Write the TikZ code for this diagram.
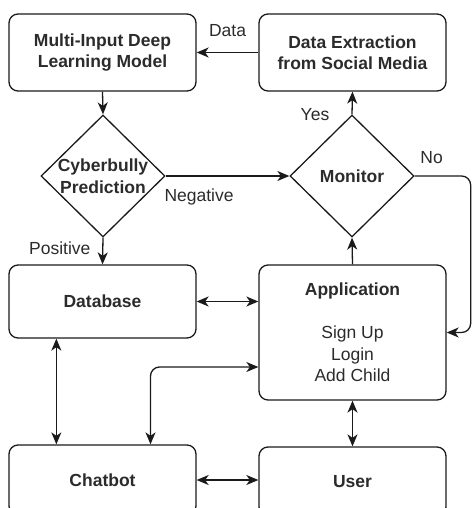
\documentclass[tikz,border=0pt]{standalone}
\usepackage{fontspec}
\setmainfont{Liberation Sans}
\usepackage{xcolor}
\usepackage{tikz}
\usetikzlibrary{calc,arrows.meta,shapes.geometric,positioning}
\definecolor{ink}{HTML}{1A1A1A}
\definecolor{txt}{HTML}{2B2B2B}
\tikzset{
  box/.style={draw=ink, line width=1.3pt, rounded corners=9pt, minimum width=187pt, text=txt, font=\fontsize{17.5}{21.5}\selectfont\bfseries, align=center},
  decision/.style={draw=ink, line width=1.3pt, diamond, shape aspect=1, inner sep=0pt, minimum width=124pt, minimum height=122pt},
  conn/.style={draw=ink, line width=1.3pt, -{Stealth[length=12pt, width=10pt, inset=3.5pt]}},
  both/.style={draw=ink, line width=1.3pt, {Stealth[length=12pt, width=10pt, inset=3.5pt]}-{Stealth[length=12pt, width=10pt, inset=3.5pt]}},
  lab/.style={text=txt, inner sep=1pt, font=\fontsize{17.5}{21.5}\selectfont},
  labb/.style={text=txt, font=\fontsize{17.5}{21.5}\selectfont\bfseries, align=center},
}
\begin{document}
\begin{tikzpicture}[x=1pt, y=-1pt]
\useasboundingbox (0,0) rectangle (472,508);
\clip (0,0) rectangle (472,508);
% boxes
\node[box, minimum height=77pt] (model) at (102.5,52.5) {Multi-Input Deep\\Learning Model};
\node[box, minimum height=77pt] (extract) at (352.5,52.5) {Data Extraction\\from Social Media};
\node[decision] (predict) at (103,176) {};
\node[labb] at (predict) {Cyberbully\\Prediction};
\node[decision] (monitor) at (352,176) {};
\node[labb] at (monitor) {Monitor};
\node[box, minimum height=73pt] (db) at (102.5,301.5) {Database};
\node[box, minimum height=135pt] (app) at (352.5,332.5) {Application\\[21.5pt]\mdseries Sign Up\\\mdseries Login\\\mdseries Add Child};
\node[box, minimum height=70pt] (chat) at (102.5,480) {Chatbot};
\node[box, minimum height=69pt] (user) at (352.5,481.5) {User};
% connectors
\draw[conn] (extract.west) -- (model.east) node[lab, midway, yshift=21.5pt] {Data};
\draw[conn] (model.south) -- (predict.north);
\draw[conn] (predict.east) -- (monitor.west) node[lab, pos=0.27, yshift=-21pt] {Negative};
\draw[conn] (predict.south) -- (db.north) node[lab, pos=0.4, xshift=-43pt] {Positive};
\draw[conn] (monitor.north) -- (extract.south) node[lab, pos=0, xshift=-37pt] {Yes};
\draw[conn, rounded corners=9pt] (monitor.east) -| node[lab, pos=0, xshift=17pt, yshift=18pt] {No} ([xshift=24pt]app.east) -- (app.east);
\draw[conn] (app.north) -- (monitor.south);
\draw[both] (db.east) -- (db.east -| app.west);
\draw[both] ([xshift=48pt]db.south west) -- ([xshift=48pt]chat.north west);
\draw[both, rounded corners=9pt] ([yshift=-34.5pt]app.west) -| ([xshift=48pt]chat.north);
\draw[both] (app.south) -- (user.north);
\draw[both] (chat.east) -- (chat.east -| user.west);
\end{tikzpicture}
\end{document}
